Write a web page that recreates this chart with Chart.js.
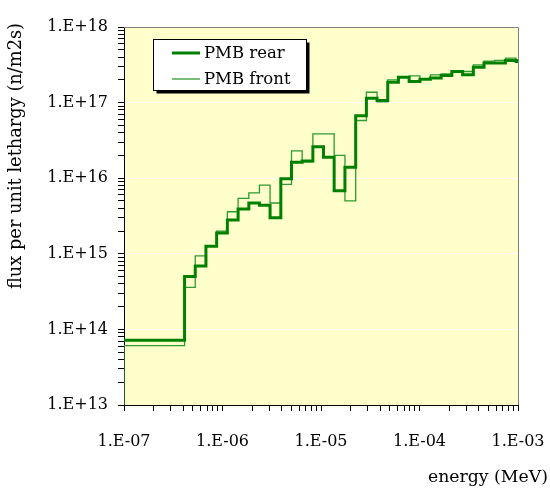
<!DOCTYPE html>
<html>
<head>
<meta charset="utf-8">
<script src="https://cdn.jsdelivr.net/npm/chart.js@4/dist/chart.umd.min.js"></script>
<style>
  html, body { margin: 0; padding: 0; background: #ffffff; }
  #wrap { width: 550px; height: 491px; position: relative; }
</style>
</head>
<body>
<div id="wrap"><canvas id="c" width="550" height="491"></canvas></div>
<script>
// Energy group boundaries (MeV), equal-lethargy groups above the first wide group
const binEdges = [1.0e-7, 4.12e-7, 5.29e-7, 6.79e-7, 8.72e-7, 1.12e-6, 1.44e-6, 1.85e-6,
  2.37e-6, 3.04e-6, 3.91e-6, 5.02e-6, 6.44e-6, 8.27e-6, 1.06e-5, 1.36e-5, 1.75e-5,
  2.25e-5, 2.89e-5, 3.71e-5, 4.76e-5, 6.11e-5, 7.85e-5, 1.01e-4, 1.29e-4, 1.66e-4,
  2.13e-4, 2.74e-4, 3.52e-4, 4.52e-4, 5.80e-4, 7.45e-4, 9.56e-4, 1.0e-3];

// Flux per unit lethargy (n/m2s), one value per group
const rearFlux = [7.2e13, 5.0e14, 6.9e14, 1.26e15, 1.89e15, 2.8e15, 3.9e15, 4.7e15, 4.4e15,
  3.0e15, 9.8e15, 1.62e16, 1.69e16, 2.6e16, 1.9e16, 6.8e15, 1.4e16, 6.7e16, 1.14e17,
  1.07e17, 1.86e17, 2.17e17, 1.9e17, 2.04e17, 2.12e17, 2.28e17, 2.58e17, 2.33e17,
  2.94e17, 3.33e17, 3.35e17, 3.61e17, 3.49e17];
const frontFlux = [6.1e13, 3.6e14, 9.4e14, 1.28e15, 2.0e15, 3.6e15, 5.4e15, 6.4e15, 8.1e15,
  4.7e15, 8.3e15, 2.3e16, 1.65e16, 3.85e16, 3.85e16, 2.0e16, 5.0e15, 5.8e16, 1.37e17,
  1.02e17, 2.0e17, 2.21e17, 2.26e17, 2.06e17, 2.33e17, 2.4e17, 2.63e17, 2.58e17,
  3.16e17, 3.54e17, 3.61e17, 3.87e17, 3.68e17];
// the front trace starts from the bottom of the flux axis
const frontFloor = 1e13;

const seriesNames = ['PMB rear', 'PMB front'];
const xTickLabels = ['1.E-07', '1.E-06', '1.E-05', '1.E-04', '1.E-03'];
const yTickLabels = ['1.E+13', '1.E+14', '1.E+15', '1.E+16', '1.E+17', '1.E+18'];
const xTitle = 'energy (MeV)';
const yTitle = 'flux per unit lethargy (n/m2s)';

const FONT = '"DejaVu Serif", Georgia, serif';
const REAR_COLOR = '#008000';
const FRONT_COLOR = '#2f9a2f';

// histogram points: value held from each lower edge to the next edge
function histogram(edges, values, floor) {
  const pts = [];
  if (floor !== undefined) pts.push({ x: edges[0], y: floor });
  values.forEach((v, i) => pts.push({ x: edges[i], y: v }));
  pts.push({ x: edges[edges.length - 1], y: values[values.length - 1] });
  return pts;
}

const xMinExp = -7, xMaxExp = -3, yMinExp = 13, yMaxExp = 18;

function decadeTicks(minExp, maxExp) {
  const t = [];
  for (let e = minExp; e <= maxExp; e++) {
    for (let m = 1; m <= 9; m++) {
      if (e === maxExp && m > 1) break;
      t.push({ value: Number(m + 'e' + e), major: m === 1 });
    }
  }
  return t;
}
function decadeIndex(v, minExp) {
  const e = Math.log10(v);
  const r = Math.round(e);
  return Math.abs(e - r) < 1e-6 ? r - minExp : -1;
}

const plotDecor = {
  id: 'plotDecor',
  beforeDraw(chart) {
    const { ctx, chartArea: a } = chart;
    ctx.save();
    ctx.fillStyle = '#ffffff';
    ctx.fillRect(0, 0, chart.width, chart.height);
    ctx.fillStyle = '#ffffcc';
    ctx.fillRect(a.left, a.top, a.right - a.left, a.bottom - a.top);
    ctx.restore();
  },
  afterDatasetsDraw(chart) {
    const { ctx, chartArea: a } = chart;
    ctx.save();
    // plot frame on the open sides
    ctx.strokeStyle = '#808080';
    ctx.lineWidth = 1;
    ctx.beginPath();
    ctx.moveTo(a.left, a.top + 0.5);
    ctx.lineTo(a.right + 0.5, a.top + 0.5);
    ctx.lineTo(a.right + 0.5, a.bottom);
    ctx.stroke();

    // legend box with drop shadow
    const bx = 153.5, by = 39.5, bw = 153, bh = 51;
    ctx.fillStyle = '#000000';
    ctx.fillRect(bx + 3, by + 3, bw, bh);
    ctx.fillStyle = '#ffffff';
    ctx.fillRect(bx, by, bw, bh);
    ctx.strokeStyle = '#000000';
    ctx.lineWidth = 1;
    ctx.strokeRect(bx, by, bw, bh);
    const rows = [
      { y: 53, color: REAR_COLOR, w: 3 },
      { y: 79, color: FRONT_COLOR, w: 1.3 }
    ];
    ctx.font = '16.5px ' + FONT;
    ctx.textBaseline = 'middle';
    ctx.textAlign = 'left';
    rows.forEach((r, i) => {
      ctx.strokeStyle = r.color;
      ctx.lineWidth = r.w;
      ctx.beginPath();
      ctx.moveTo(172, r.y);
      ctx.lineTo(200, r.y);
      ctx.stroke();
      ctx.fillStyle = '#000000';
      ctx.fillText(seriesNames[i], 204, r.y + 1);
    });

    // axis titles
    ctx.fillStyle = '#000000';
    ctx.font = '17.3px ' + FONT;
    ctx.textAlign = 'right';
    ctx.textBaseline = 'alphabetic';
    ctx.fillText(xTitle, 548, 482);
    ctx.save();
    ctx.translate(21, 156);
    ctx.rotate(-Math.PI / 2);
    ctx.textAlign = 'center';
    ctx.font = '17.8px ' + FONT;
    ctx.fillText(yTitle, 0, 0);
    ctx.restore();
    ctx.restore();
  }
};

new Chart(document.getElementById('c'), {
  type: 'scatter',
  data: {
    datasets: [
      {
        label: seriesNames[0],
        data: histogram(binEdges, rearFlux),
        showLine: true, stepped: true,
        borderColor: REAR_COLOR, borderWidth: 3,
        pointRadius: 0, fill: false
      },
      {
        label: seriesNames[1],
        data: histogram(binEdges, frontFlux, frontFloor),
        showLine: true, stepped: true,
        borderColor: FRONT_COLOR, borderWidth: 1.3,
        pointRadius: 0, fill: false
      }
    ]
  },
  options: {
    responsive: false,
    animation: false,
    devicePixelRatio: 1,
    layout: { padding: { left: 0, top: 27, right: 32, bottom: 0 } },
    plugins: { legend: { display: false }, tooltip: { enabled: false } },
    scales: {
      x: {
        type: 'logarithmic',
        min: 1e-7, max: 1e-3,
        afterBuildTicks(scale) { scale.ticks = decadeTicks(xMinExp, xMaxExp); },
        afterFit(scale) { scale.height = 86; scale.paddingLeft = 0; scale.paddingRight = 0; },
        ticks: {
          autoSkip: false, maxRotation: 0, minRotation: 0,
          padding: 21,
          color: '#000000',
          font: { family: FONT, size: 16 },
          callback(v) { const i = decadeIndex(v, xMinExp); return i >= 0 ? xTickLabels[i] : ''; }
        },
        grid: {
          drawOnChartArea: false,
          tickLength: 6,
          tickColor: '#000000',
          lineWidth: 1
        },
        border: { color: '#000000', width: 1 }
      },
      y: {
        type: 'logarithmic',
        min: 1e13, max: 1e18,
        afterBuildTicks(scale) { scale.ticks = decadeTicks(yMinExp, yMaxExp); },
        afterFit(scale) { scale.width = 124; scale.paddingTop = 0; scale.paddingBottom = 0; },
        ticks: {
          autoSkip: false,
          padding: 10,
          color: '#000000',
          font: { family: FONT, size: 16 },
          callback(v) { const i = decadeIndex(v, yMinExp); return i >= 0 ? yTickLabels[i] : ''; }
        },
        grid: {
          color(ctx) {
            return ctx.tick && decadeIndex(ctx.tick.value, yMinExp) >= 0 ? '#ffffff' : 'rgba(0,0,0,0)';
          },
          tickColor: '#000000',
          tickLength: 6,
          lineWidth: 1
        },
        border: { color: '#000000', width: 1 }
      }
    }
  },
  plugins: [plotDecor]
});
</script>
</body>
</html>
